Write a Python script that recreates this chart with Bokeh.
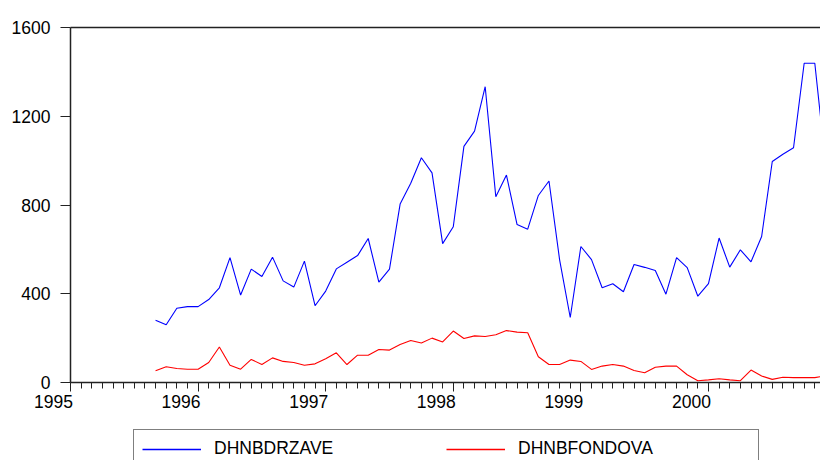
import pandas as pd
from bokeh.plotting import figure
from bokeh.layouts import column
from bokeh.models import (Range1d, SingleIntervalTicker, FixedTicker,
                          LinearAxis, ColumnDataSource)
from bokeh.embed import file_html
from bokeh.resources import INLINE

# Monthly sample 1995M09 - 2000M12
start_month = "1995-09"
dhnbdrzave = [281, 260, 335, 342, 342, 374, 427, 563, 394, 511, 478, 565,
              458, 430, 547, 346, 412, 512, 542, 572, 649, 452, 511, 804,
              898, 1013, 945, 626, 702, 1064, 1133, 1333, 837, 935, 712, 691,
              843, 908, 553, 293, 613, 554, 427, 445, 409, 532, 519, 505,
              398, 563, 518, 389, 446, 651, 520, 598, 544, 658, 996, 1029,
              1058, 1439, 1439, 990]
dhnbfondova = [53, 71, 63, 60, 60, 90, 160, 78, 60, 104, 81, 111,
               95, 90, 78, 84, 107, 134, 81, 123, 123, 149, 146, 171,
               189, 178, 200, 183, 232, 198, 210, 207, 215, 234, 227, 224,
               116, 81, 81, 101, 95, 59, 74, 81, 74, 54, 44, 69,
               74, 74, 35, 8, 12, 17, 12, 8, 56, 29, 14, 24,
               22, 22, 22, 30]
y_ticks = [0, 400, 800, 1200, 1600]
x_years = [1995, 1996, 1997, 1998, 1999, 2000, 2001]
series_names = ["DHNBDRZAVE", "DHNBFONDOVA"]
series_colors = ["#0000FF", "#FF0000"]

periods = pd.period_range(start_month, periods=len(dhnbdrzave), freq="M")
xs = [per.year + (per.month - 1) / 12 for per in periods]
src = ColumnDataSource(dict(x=xs, a=dhnbdrzave, b=dhnbfondova))

FONT = "Liberation Sans"
FS = "17.5px"
PAD = "\u00a0" * 7   # year labels sit to the left of their tick

p = figure(width=820, height=420, output_backend="svg", toolbar_location=None,
           x_range=Range1d(1995, 2000.878), y_range=Range1d(0, 1600),
           min_border_left=70, min_border_right=0, min_border_top=27,
           min_border_bottom=38)
p.outline_line_color = None
p.grid.visible = False
p.background_fill_color = "white"
p.border_fill_color = "white"

p.line("x", "a", source=src, line_color=series_colors[0], line_width=1.1)
p.line("x", "b", source=src, line_color=series_colors[1], line_width=1.1)

xa = p.xaxis[0]
xa.ticker = SingleIntervalTicker(interval=1, num_minor_ticks=12)
xa.major_label_overrides = {y: f"{y}{PAD}" for y in x_years}
xa.major_tick_out = 9
xa.major_tick_in = 0
xa.minor_tick_out = 6
xa.minor_tick_in = 0
xa.major_label_standoff = 0
for ax in (p.xaxis[0], p.yaxis[0]):
    ax.axis_line_color = "#222222"
    ax.axis_line_width = 1.5
    ax.major_tick_line_color = "#222222"
    ax.minor_tick_line_color = "#222222"
    ax.major_label_text_font = FONT
    ax.major_label_text_font_size = FS
    ax.major_label_text_color = "black"

ya = p.yaxis[0]
ya.ticker = FixedTicker(ticks=y_ticks)
ya.major_tick_out = 10
ya.major_tick_in = 0
ya.minor_tick_line_color = None
ya.major_label_standoff = 10

top = LinearAxis(ticker=FixedTicker(ticks=[]), axis_line_color="#222222",
                 axis_line_width=1.5, major_tick_line_color=None,
                 minor_tick_line_color=None, major_label_text_font_size="0px")
p.add_layout(top, "above")

# legend strip below the chart (series drawn out of view; only the legend shows)
p2 = figure(width=820, height=40, output_backend="svg", toolbar_location=None,
            x_range=Range1d(0, 1), y_range=Range1d(0, 1),
            min_border=0, min_border_left=0, min_border_right=0,
            min_border_top=0, min_border_bottom=0)
p2.axis.visible = False
p2.grid.visible = False
p2.outline_line_color = None
p2.background_fill_color = "white"
p2.border_fill_color = "white"
for name, col, key in zip(series_names, series_colors, ["a", "b"]):
    p2.line("x", key, source=src, line_color=col, line_width=1.3,
            legend_label=name)

lg = p2.legend[0]
lg.orientation = "horizontal"
lg.location = (63, -8)
lg.padding = 8
lg.spacing = 0
lg.glyph_width = 59
lg.glyph_height = 20
lg.label_standoff = 13
lg.label_width = 232
lg.label_height = 20
lg.label_text_font = FONT
lg.label_text_font_size = FS
lg.label_text_color = "black"
lg.border_line_color = "black"
lg.border_line_width = 1
lg.background_fill_color = "white"
lg.background_fill_alpha = 1.0
lg.margin = 0

layout = column(p, p2, spacing=0)
open("out.html", "w").write(file_html(layout, INLINE))
